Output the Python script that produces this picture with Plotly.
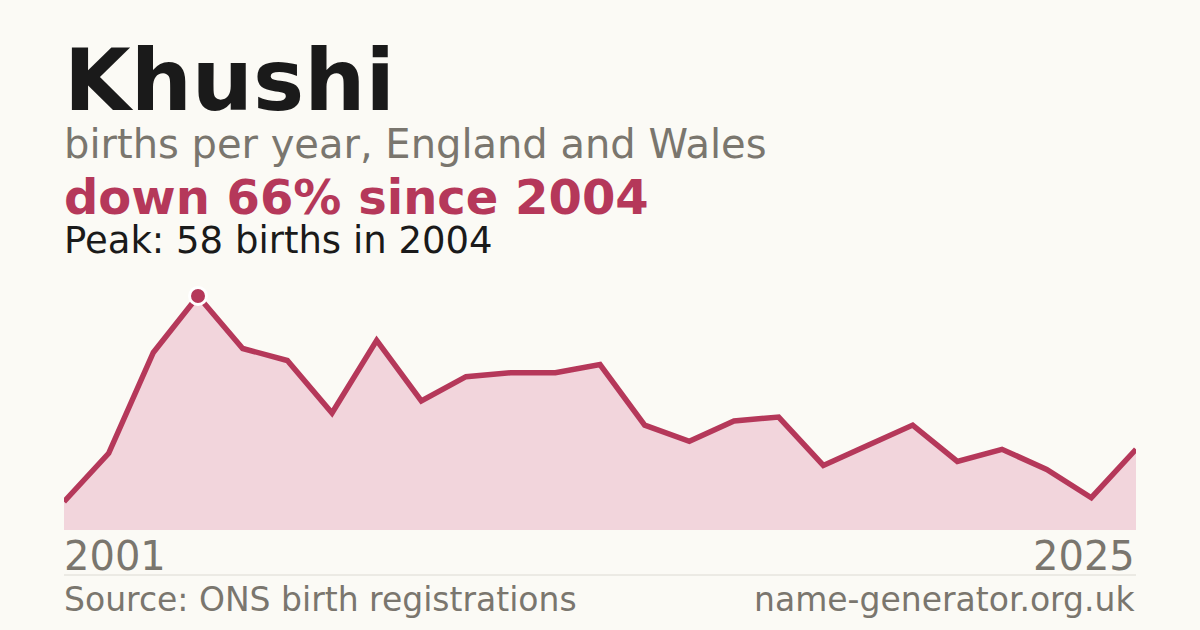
import plotly.graph_objects as go

# births per year for the name
years = list(range(2001, 2026))
births = [7, 19, 44, 58, 45, 42, 29, 47, 32, 38, 39, 39, 41, 26, 22, 27, 28, 16, 21, 26, 17, 20, 15, 8, 20]

name = "Khushi"
subtitle = "births per year, England and Wales"
trend_text = "down 66% since 2004"
peak_text = "Peak: 58 births in 2004"
source_text = "Source: ONS birth registrations"
site_text = "name-generator.org.uk"

RED = "#b5385a"
FILL = "#f2d5dc"
BG = "#fbfaf5"
GREY = "#7a766e"
FONT = "DejaVu Sans"

W, H = 1200, 630


def py(px):
    # pixel row -> paper fraction (margins are zero)
    return 1 - px / H


peak_i = births.index(max(births))

fig = go.Figure()
fig.add_trace(go.Scatter(
    x=years, y=births,
    mode='lines',
    fill='tozeroy',
    fillcolor=FILL,
    line=dict(color=RED, width=5.5),
    hoverinfo='skip',
))
fig.add_trace(go.Scatter(
    x=[years[peak_i]], y=[births[peak_i]],
    mode='markers',
    marker=dict(size=17, color=RED, line=dict(color='white', width=3)),
    hoverinfo='skip',
    cliponaxis=False,
))

# plot area: x 64..1136 px, baseline at 530 px, peak at 296 px
plot_top, plot_bottom = 280, 530
y_top = max(births) * (plot_bottom - plot_top) / (plot_bottom - 296)

fig.update_layout(
    width=W, height=H,
    margin=dict(l=0, r=0, t=0, b=0),
    paper_bgcolor=BG, plot_bgcolor=BG,
    showlegend=False,
    xaxis=dict(domain=[64 / W, 1136 / W], range=[years[0], years[-1]],
               visible=False, fixedrange=True),
    yaxis=dict(domain=[py(plot_bottom), py(plot_top)], range=[0, y_top],
               visible=False, fixedrange=True),
    font=dict(family=FONT),
)

texts = [
    (name, 63, 80, 86, '#1a1a1a', True, 'left'),
    (subtitle, 63, 144, 40, GREY, False, 'left'),
    (trend_text, 63, 197, 48, RED, True, 'left'),
    (peak_text, 63, 240, 37, '#1a1a1a', False, 'left'),
    (str(years[0]), 63, 556, 40, GREY, False, 'left'),
    (str(years[-1]), 1136, 556, 40, GREY, False, 'right'),
    (source_text, 63, 599, 33, GREY, False, 'left'),
    (site_text, 1136, 599, 33, GREY, False, 'right'),
]
for t, x, y, size, color, bold, anchor in texts:
    fig.add_annotation(
        text=f"<b>{t}</b>" if bold else t,
        x=x / W, y=py(y), xref='paper', yref='paper',
        xanchor=anchor, yanchor='middle', showarrow=False,
        font=dict(size=size, color=color, family=FONT),
        borderpad=0,
    )

fig.add_shape(type='line', xref='paper', yref='paper',
              x0=64 / W, x1=1136 / W, y0=py(575), y1=py(575),
              line=dict(color='#dcdad3', width=1))

fig.write_html(
    "out.html",
    config={'displayModeBar': False},
    post_script="document.body.style.margin='0';document.body.style.background='%s';" % BG,
)
